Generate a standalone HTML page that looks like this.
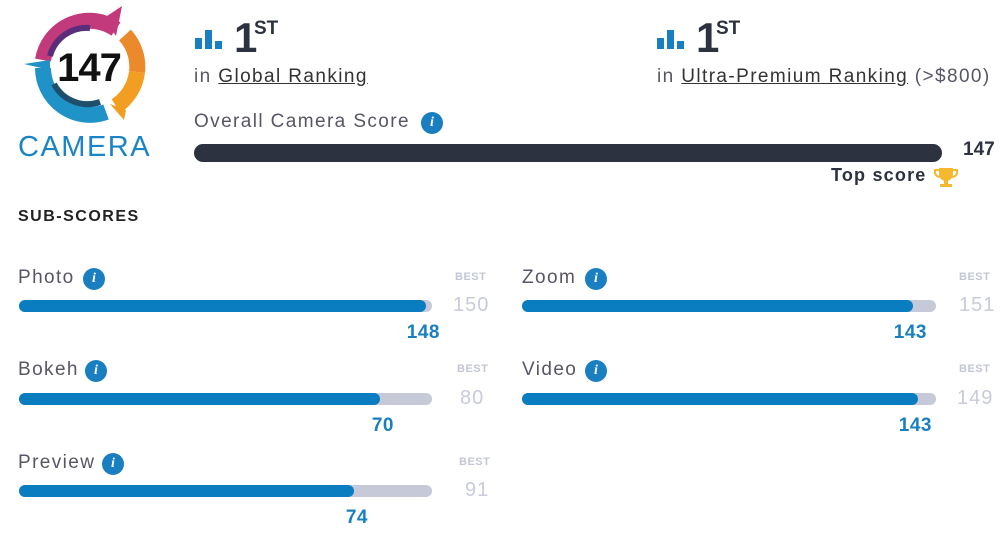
<!DOCTYPE html>
<html><head><meta charset="utf-8"><style>
body{margin:0;width:1000px;height:542px;background:#fff;position:relative;overflow:hidden;font-family:"Liberation Sans",sans-serif}
.a{position:absolute;white-space:nowrap}
.lbl{font-size:19px;color:#5a5566;letter-spacing:1.4px}
.info{position:absolute;width:22px;height:22px;border-radius:50%;background:#1a7fc0;color:#fff;font:italic bold 14px "Liberation Serif",serif;text-align:center;line-height:22px}
.track{position:absolute;height:12px;border-radius:6px;background:#c6c9d8}
.fill{position:absolute;left:0;top:0;height:12px;border-radius:6px;background:#0a7cc0}
.best{font-size:11px;font-weight:bold;color:#c3c6d6;letter-spacing:.5px}
.bv{font-size:20px;color:#c8cbdc;letter-spacing:1px}
.val{font-size:19px;font-weight:bold;color:#1a7fc0;text-align:right;letter-spacing:.5px}
</style></head><body>
<svg class="a" style="left:0;top:0" width="170" height="130" viewBox="0 0 170 130">
<g fill="none" stroke-width="16">
<path d="M43 60 A47 47 0 0 1 116 29" stroke="#c23a7c"/>
<path d="M125 35 A47 47 0 0 1 137 72" stroke="#ea8a2a"/>
<path d="M137 72 A47 47 0 0 1 116 106" stroke="#f29e22"/>
<path d="M106 112 A47 47 0 0 1 43 68" stroke="#1f93c8"/>
<path d="M50 56 A38 38 0 0 1 90 28" stroke="#5a2d7a" stroke-width="6"/>
<path d="M100 102 A38 38 0 0 1 54 84" stroke="#1d4e6b" stroke-width="6"/>
</g>
<path d="M104 18 L122 6 L116 36 Z" fill="#c23a7c"/>
<path d="M24 64 L50 60 L50 70 Z" fill="#1f93c8"/>
<path d="M110 104 L126 110 L124 120 Z" fill="#f29e22"/>
<circle cx="90" cy="66" r="34" fill="#fff"/>
<text x="89" y="81" text-anchor="middle" font-family="Liberation Sans" font-weight="bold" font-size="40" fill="#111" letter-spacing="-1">147</text>
</svg>
<div class="a" style="left:18px;top:131px;font-size:29px;color:#1a84c6;letter-spacing:1.5px">CAMERA</div>

<svg class="a" style="left:195px;top:30px" width="32" height="20"><rect x="0" y="8" width="7" height="11" fill="#1a7fc0"/><rect x="10" y="0" width="7" height="19" fill="#1a7fc0"/><rect x="20" y="11" width="7" height="8" fill="#1a7fc0"/></svg>
<div class="a" style="left:234px;top:14px;font-size:42px;font-weight:bold;color:#2d3240">1</div>
<div class="a" style="left:254px;top:18px;font-size:19px;font-weight:bold;color:#2d3240">ST</div>
<div class="a lbl" style="left:194px;top:66px">in <u style="color:#333">Global Ranking</u></div>

<svg class="a" style="left:657px;top:30px" width="32" height="20"><rect x="0" y="8" width="7" height="11" fill="#1a7fc0"/><rect x="10" y="0" width="7" height="19" fill="#1a7fc0"/><rect x="20" y="11" width="7" height="8" fill="#1a7fc0"/></svg>
<div class="a" style="left:696px;top:14px;font-size:42px;font-weight:bold;color:#2d3240">1</div>
<div class="a" style="left:716px;top:18px;font-size:19px;font-weight:bold;color:#2d3240">ST</div>
<div class="a lbl" style="left:657px;top:66px">in <u style="color:#333">Ultra-Premium Ranking</u> (&gt;$800)</div>

<div class="a lbl" style="left:194px;top:111px">Overall Camera Score</div>
<div class="info" style="left:421px;top:112px">i</div>
<div class="a" style="left:194px;top:144px;width:748px;height:18px;border-radius:9px;background:#2d3240"></div>
<div class="a" style="left:963px;top:139px;font-size:19px;font-weight:bold;color:#2d3240">147</div>
<div class="a" style="left:831px;top:165px;font-size:18px;font-weight:bold;color:#2d3240;letter-spacing:1.2px">Top score</div>
<svg class="a" style="left:934px;top:166px" width="24" height="22"><path d="M5 2h14v6a7 7 0 0 1-14 0z" fill="#f5b82e"/><path d="M5 4H1v3a5 5 0 0 0 5 4M19 4h4v3a5 5 0 0 1-5 4" fill="none" stroke="#f5b82e" stroke-width="2"/><rect x="10" y="14" width="4" height="4" fill="#f5b82e"/><rect x="6" y="18" width="12" height="3" fill="#f5b82e"/></svg>

<div class="a" style="left:18px;top:208px;font-size:16px;font-weight:bold;color:#222;letter-spacing:1.5px">SUB-SCORES</div>

<div class="a lbl" style="left:18px;top:267px">Photo</div><div class="info" style="left:83px;top:268px">i</div>
<div class="a best" style="left:455px;top:271px">BEST</div>
<div class="track" style="left:19px;top:300px;width:413px"><div class="fill" style="width:407px"></div></div>
<div class="a bv" style="left:453px;top:294px">150</div>
<div class="a val" style="left:340px;width:100px;top:322px">148</div>

<div class="a lbl" style="left:18px;top:359px">Bokeh</div><div class="info" style="left:85px;top:360px">i</div>
<div class="a best" style="left:457px;top:363px">BEST</div>
<div class="track" style="left:19px;top:393px;width:413px"><div class="fill" style="width:361px"></div></div>
<div class="a bv" style="left:460px;top:387px">80</div>
<div class="a val" style="left:294px;width:100px;top:415px">70</div>

<div class="a lbl" style="left:18px;top:452px">Preview</div><div class="info" style="left:102px;top:453px">i</div>
<div class="a best" style="left:459px;top:456px">BEST</div>
<div class="track" style="left:19px;top:485px;width:413px"><div class="fill" style="width:335px"></div></div>
<div class="a bv" style="left:465px;top:479px">91</div>
<div class="a val" style="left:268px;width:100px;top:507px">74</div>

<div class="a lbl" style="left:522px;top:267px">Zoom</div><div class="info" style="left:585px;top:268px">i</div>
<div class="a best" style="left:959px;top:271px">BEST</div>
<div class="track" style="left:522px;top:300px;width:414px"><div class="fill" style="width:391px"></div></div>
<div class="a bv" style="left:959px;top:294px">151</div>
<div class="a val" style="left:827px;width:100px;top:322px">143</div>

<div class="a lbl" style="left:522px;top:359px">Video</div><div class="info" style="left:585px;top:360px">i</div>
<div class="a best" style="left:959px;top:363px">BEST</div>
<div class="track" style="left:522px;top:393px;width:414px"><div class="fill" style="width:396px"></div></div>
<div class="a bv" style="left:957px;top:387px">149</div>
<div class="a val" style="left:832px;width:100px;top:415px">143</div>
</body></html>
